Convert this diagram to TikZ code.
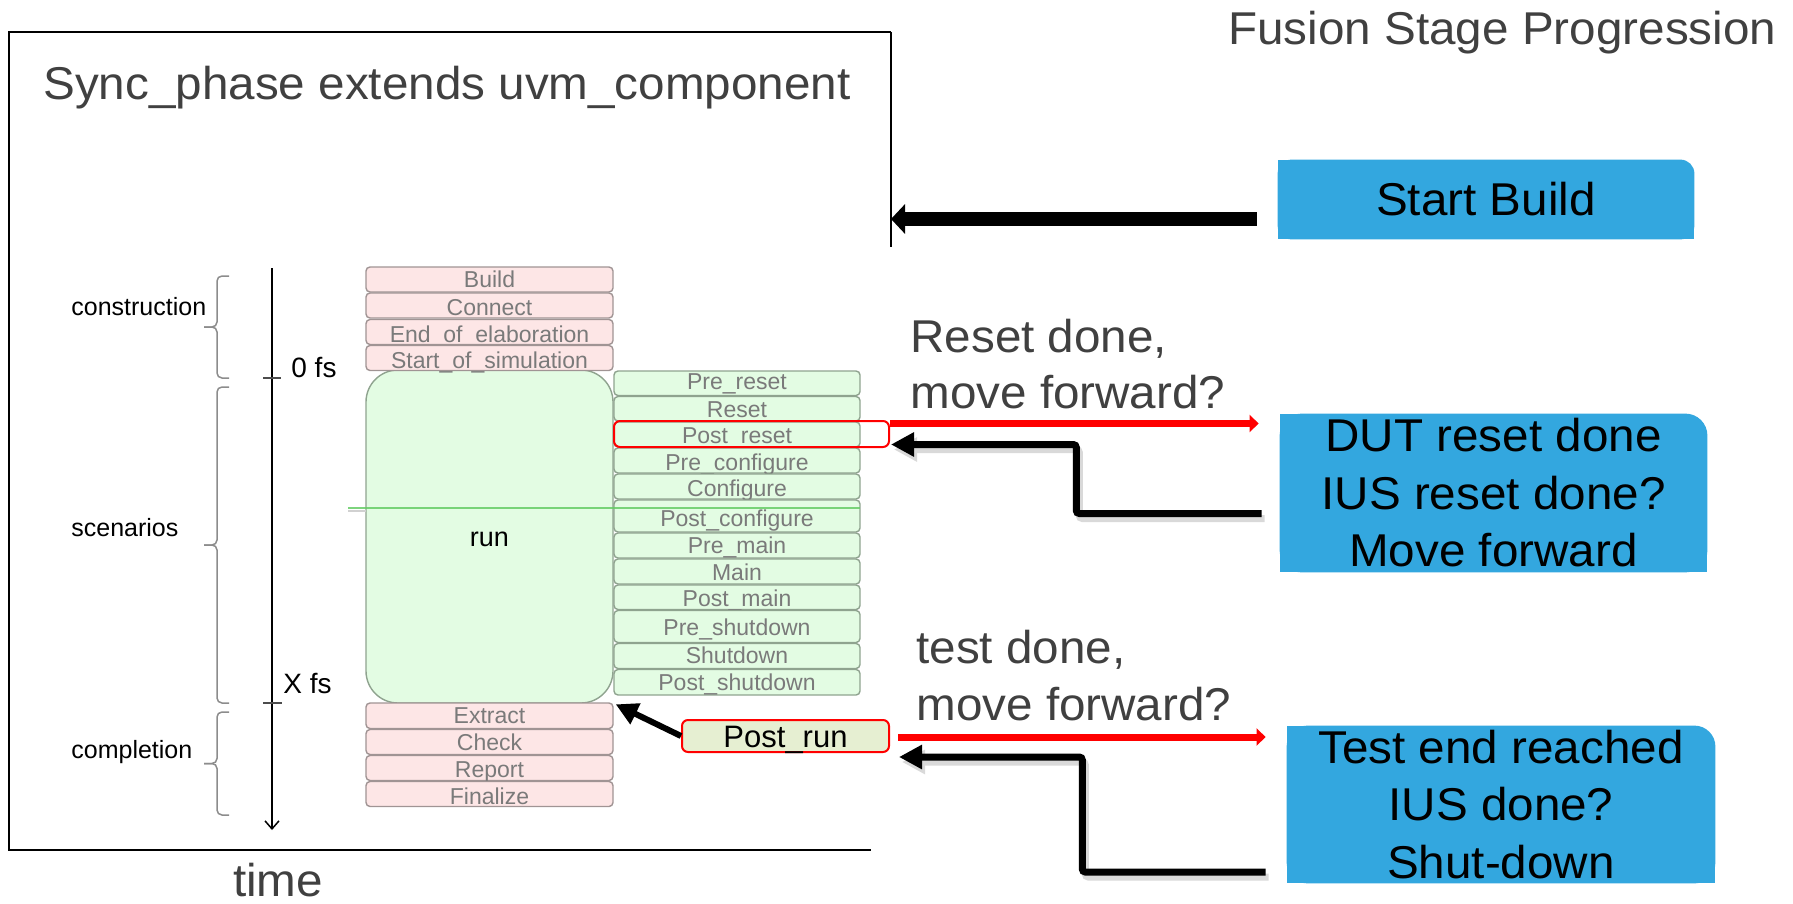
\documentclass[tikz,border=0pt]{standalone}
\usepackage{fontspec}
\setmainfont{Liberation Sans}
\newfontfamily\bigfont[FakeStretch=1.035]{Liberation Sans}
\usetikzlibrary{arrows.meta,backgrounds,calc}
\definecolor{boxblue}{HTML}{33A7DF}
\definecolor{pinkfill}{HTML}{FDE6E6}
\definecolor{pinkline}{HTML}{A09494}
\definecolor{greenfill}{HTML}{E3FCE3}
\definecolor{greenline}{HTML}{8FA38F}
\definecolor{phtext}{HTML}{7A7A7A}
\definecolor{darktext}{HTML}{404040}
\definecolor{postfill}{HTML}{E6EFD2}
\definecolor{divgreen}{HTML}{66CC66}
% #1 node name, #2 corner radius in pt (number only); 1 unit = 0.5pt
\newcommand\bluebg[2]{%
  \fill[boxblue, rounded corners=#2pt] (#1.south west) rectangle (#1.north east);
  \fill[boxblue] (#1.south west) rectangle ($(#1.north east)+(-2*#2,0)$);
  \fill[boxblue] (#1.south west) rectangle ($(#1.north east)+(0,2*#2)$);}
\begin{document}
\begin{tikzpicture}[x=0.5pt, y=-0.5pt,
  bigtxt/.style={font=\bigfont\fontsize{23}{28.75}\selectfont, text=darktext, inner sep=0pt},
  bluebox/.style={inner sep=0pt, align=center, font=\bigfont\fontsize{23}{28.75}\selectfont, text=black},
  phasebox/.style={draw, rounded corners=2pt, line width=0.7pt, inner sep=0pt},
  pinkph/.style={phasebox, fill=pinkfill, draw=pinkline, minimum width=123.5pt},
  greenph/.style={phasebox, fill=greenfill, draw=greenline, minimum width=123pt},
  phtxt/.style={font=\fontsize{11.5}{13}\selectfont, text=phtext, inner sep=0pt, anchor=base},
  sidelbl/.style={font=\fontsize{12.5}{14}\selectfont, inner sep=0pt, anchor=base west},
  timelbl/.style={font=\fontsize{14}{16}\selectfont, inner sep=0pt, anchor=base west},
  bracestyle/.style={draw=black!45, line width=0.75pt, rounded corners=2.5pt},
  fatarrow/.style={line width=7pt, -{Triangle[length=7pt,width=14.5pt]}},
  bentarrow/.style={line width=3.5pt, rounded corners=1.5pt, -{Triangle[length=11.5pt,width=11.5pt]}},
  bentshadow/.style={bentarrow, draw=black!15, transform canvas={xshift=1.5pt,yshift=-2.5pt}},
  redarrow/.style={draw=red, line width=3.5pt, -{Triangle[length=4.5pt,width=8.5pt]}},
  prarrow/.style={line width=3pt, -{Triangle[length=11pt,width=11pt]}}]
\useasboundingbox (0,0) rectangle (1793,904);

% frame
\draw[line width=1pt] (9,32) -- (891,32);
\draw[line width=0.6pt] (891,32) -- (891,247);
\draw[line width=1.3pt] (9,31.5) -- (9,850);
\draw[line width=1.3pt] (8.4,850) -- (871,850);
\coordinate (frameR) at (891,219);

% titles
\node[bigtxt, anchor=base west] (title) at (43,100) {Sync\_phase extends uvm\_component};
\node[bigtxt, anchor=base west] (fusion) at (1228,45) {Fusion Stage Progression};
\node[bigtxt, anchor=base] (time) at (278,896) {time};

% side labels and braces
\node[sidelbl] (constr) at (71,315) {construction};
\node[sidelbl] (scen) at (71,536) {scenarios};
\node[sidelbl] (compl) at (71,758) {completion};
\foreach \tp/\md/\bt in {276/327/378, 387/545/703, 712/763.5/815}{
  \draw[bracestyle] (229,\tp) -- (217,\tp) -- (217,\md) -- (204,\md);
  \draw[bracestyle] (204,\md) -- (217,\md) -- (217,\bt) -- (229,\bt);
}

% time axis
\coordinate (tstart) at (272,268);
\coordinate (tend) at (272,830);
\draw[line width=0.75pt, -{Straight Barb[length=4pt,width=7pt]}] (tstart) -- (tend);
\draw[line width=0.6pt, black!70] (263,378) -- (281,378);
\draw[line width=0.6pt, black!70] (263,703) -- (282,703);
\node[timelbl] (zerofs) at (291,377) {0 fs};
\node[timelbl] (xfs) at (283,693) {X fs};

% run box
\node[phasebox, fill=greenfill, draw=greenline, rounded corners=16pt,
      minimum width=123.5pt, minimum height=166.5pt,
      font=\fontsize{13.5}{15}\selectfont, text height=10pt, text depth=0pt] (run) at (489.5,536.5) {run};

% pink phases
\foreach \nm/\tp/\bt/\bl/\tx in {build/267/292/287/Build, connect/293/318/315/Connect,
    eoe/319.5/344.5/342/End\_of\_elaboration, sos/345.5/370.5/368/Start\_of\_simulation,
    extract/703/728.5/723/Extract, check/729.5/754.5/750/Check,
    report/755.5/780.5/777/Report, finalize/781.5/806.5/804/Finalize}{
  \node[pinkph, minimum height={(\bt-\tp)*0.5pt}] (\nm) at (489.5,{(\tp+\bt)/2}) {};
  \node[phtxt] (\nm-t) at (489.5,\bl) {\tx};
}
% green phases
\foreach \nm/\tp/\bt/\bl/\tx in {prereset/371/395.5/389/Pre\_reset, reset/396.5/421/417/Reset,
    postreset/422/447/443/Post\_reset, precfg/448/473/470/Pre\_configure,
    cfg/474/499/496/Configure, postcfg/500/532/526/Post\_configure,
    premain/533/558/553/Pre\_main, main/559/584/580/Main,
    postmain/585/609.5/606/Post\_main, preshut/610.5/642.5/635/Pre\_shutdown,
    shut/643.5/668.5/663/Shutdown, postshut/669.5/695/690/Post\_shutdown}{
  \node[greenph, minimum height={(\bt-\tp)*0.5pt}] (\nm) at (737,{(\tp+\bt)/2}) {};
  \node[phtxt] (\nm-t) at (737,\bl) {\tx};
}

% divider line
\draw[black!18, line width=1pt] (348,511) -- (366,511);
\draw[divgreen, line width=0.75pt, opacity=0.85] (348,508) -- (860,508);

% highlight and post_run
\node[draw=red, line width=1pt, rounded corners=3pt, minimum width=137.5pt,
      minimum height=13pt, inner sep=0pt] (prhl) at (751.5,434) {};
\node[draw=red, fill=postfill, line width=1pt, rounded corners=3pt, minimum width=103.5pt,
      minimum height=16pt, inner sep=0pt, font=\fontsize{15.5}{18}\selectfont,
      text height=11pt, text depth=0pt] (postrun) at (785.5,736) {Post\_run};

% blue boxes
\node[bluebox, minimum width=208pt, minimum height=39.5pt] (sb) at (1486,199.5) {Start Build};
\node[bluebox, minimum width=213.5pt, minimum height=79pt] (dut) at (1493.5,493)
  {DUT reset done\\IUS reset done?\\Move forward};
\node[bluebox, minimum width=214pt, minimum height=78.5pt] (test) at (1501,804.5)
  {Test end reached\\IUS done?\\Shut-down};
\begin{scope}[on background layer]
  \bluebg{sb}{7}
  \bluebg{dut}{11}
  \bluebg{test}{10.5}
\end{scope}

% question texts
\node[bigtxt, anchor=base west] (rq1) at (910,352) {Reset done,};
\node[bigtxt, anchor=base west] (rq2) at (910,408) {move forward?};
\node[bigtxt, anchor=base west] (tq1) at (916,663) {test done,};
\node[bigtxt, anchor=base west] (tq2) at (916,720) {move forward?};

% connectors
\draw[fatarrow] ($(sb.west)+(-21,19.5)$) -- (frameR);

\coordinate (r1s) at ($(prhl.north east)+(0,3.5)$);
\coordinate (r1e) at ($(dut.west)+(-21,-68.5)$);
\draw[redarrow] (r1s) -- (r1s -| r1e);

\coordinate (b1s) at ($(dut.west)+(-18,20.5)$);
\coordinate (b1e) at ($(prhl.south east)+(1,-3.5)$);
\draw[bentshadow] (b1s) -| ($(b1s)!0.5!(b1e)$) |- (b1e);
\draw[bentarrow] (b1s) -| ($(b1s)!0.5!(b1e)$) |- (b1e);

\coordinate (r2s) at ($(postrun.east)+(8,1)$);
\coordinate (r2e) at ($(test.west)+(-21,0)$);
\draw[redarrow] (r2s) -- (r2s -| r2e);

\coordinate (b2s) at ($(test.west)+(-21,67.5)$);
\coordinate (b2e) at ($(postrun.south east)+(9,4)$);
\draw[bentshadow] (b2s) -| ($(b2s)!0.5!(b2e)$) |- (b2e);
\draw[bentarrow] (b2s) -| ($(b2s)!0.5!(b2e)$) |- (b2e);

\draw[prarrow] (postrun.west) -- ($(extract.north east)+(2,2)$);
\end{tikzpicture}
\end{document}
